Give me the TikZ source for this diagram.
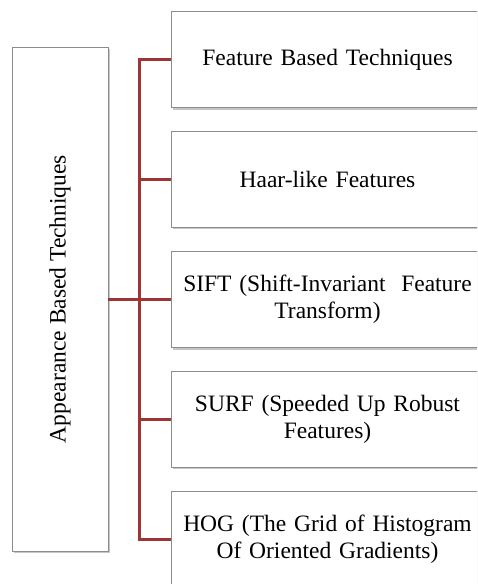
\documentclass[tikz,border=0pt]{standalone}
\usepackage{fontspec}
\setmainfont{Liberation Serif}
\usetikzlibrary{shadows}
\definecolor{linkred}{RGB}{158,52,52}
\definecolor{boxedge}{RGB}{140,140,140}
\tikzset{
  techbox/.style={draw=boxedge, line width=0.8pt, fill=white, inner sep=0pt,
    minimum width=313pt, minimum height=96pt, text width=300pt, align=center,
    font=\fontsize{23.5}{27}\selectfont,
    drop shadow={shadow xshift=2pt, shadow yshift=-2pt, opacity=0.45, fill=gray}},
  rootbox/.style={draw=boxedge, line width=0.8pt, fill=white, inner sep=0pt,
    minimum width=96pt, minimum height=504pt,
    drop shadow={shadow xshift=2pt, shadow yshift=-2pt, opacity=0.45, fill=gray}},
  conn/.style={draw=linkred, line width=3pt}
}
\begin{document}
\begin{tikzpicture}[x=1pt, y=-1pt]
  \useasboundingbox (0,0) rectangle (477,584);
  \clip (0,0) rectangle (477,584);
  % root box with vertical title
  \node[rootbox] (root) at (60,299) {};
  \node[rotate=90, font=\fontsize{23.5}{27}\selectfont] (roottxt) at (root.center) {Appearance Based Techniques};
  % technique boxes
  \node[techbox] (b1) at (327.5,59.5) {Feature Based Techniques};
  \node[techbox] (b2) at (327.5,179) {Haar-like Features};
  \node[techbox] (b3) at (327.5,299.5) {SIFT (Shift-Invariant\ \ Feature\\Transform)};
  \node[techbox] (b4) at (327.5,419) {SURF (Speeded Up Robust\\Features)};
  \node[techbox] (b5) at (327.5,539) {HOG (The Grid of Histogram\\Of Oriented Gradients)};
  % connectors
  \draw[conn] (root.east) -- ++(31,0) coordinate (j);
  \draw[conn, line cap=rect] (j |- b1.west) -- (j |- b5.west);
  \foreach \b in {b1,b2,b3,b4,b5}
    \draw[conn] (j |- \b.west) -- (\b.west);
\end{tikzpicture}
\end{document}
